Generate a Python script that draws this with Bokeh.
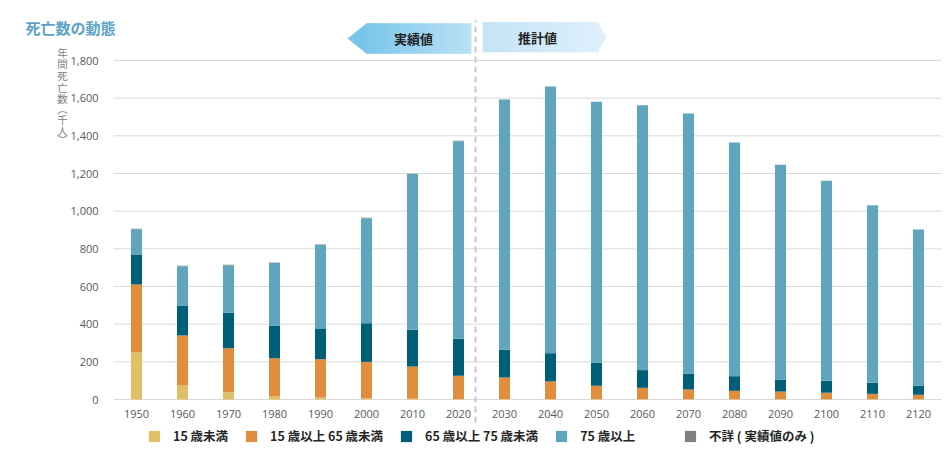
import numpy as np
from bokeh.plotting import figure
from bokeh.models import ColumnDataSource, Range1d, Legend, LegendItem, Label
from bokeh.core.properties import value
from bokeh.embed import file_html
from bokeh.resources import INLINE

# ---------------- data (thousand persons) ----------------
years = ["1950", "1960", "1970", "1980", "1990", "2000", "2010", "2020",
         "2030", "2040", "2050", "2060", "2070", "2080", "2090", "2100", "2110", "2120"]
under15 = [250, 74, 39, 18, 10, 5, 4, 2, 2, 2, 2, 1, 1, 1, 1, 1, 1, 1]
age15_64 = [360, 266, 233, 201, 204, 195, 171, 124, 115, 94, 71, 61, 52, 45, 41, 35, 29, 24]
age65_74 = [157, 159, 188, 174, 161, 205, 195, 196, 147, 150, 123, 94, 85, 78, 64, 63, 59, 49]
age75p = [136, 208, 252, 332, 446, 558, 827, 1049, 1329, 1416, 1385, 1407, 1380, 1240, 1141, 1063, 942, 829]
unknown = [3, 3, 3, 2, 2, 2, 2, 3, 0, 0, 0, 0, 0, 0, 0, 0, 0, 0]
series_names = ["15 歳未満", "15 歳以上 65 歳未満", "65 歳以上 75 歳未満", "75 歳以上", "不詳 ( 実績値のみ )"]
series_colors = ["#E0BF66", "#E08E3E", "#005F78", "#5EA5BD", "#808080"]
y_ticks = [0, 200, 400, 600, 800, 1000, 1200, 1400, 1600, 1800]
y_tick_labels = ["0", "200", "400", "600", "800", "1,000", "1,200", "1,400", "1,600", "1,800"]
last_actual = "2020"
title_text = "死亡数の動態"
y_label_chars = ["年", "間", "死", "亡", "数", "︵", "千", "人", "︶"]
banner_left_text = "実績値"
banner_right_text = "推計値"

# ---------------- layout constants (pixels) ----------------
W, H = 944, 448
PLOT_LEFT, PLOT_RIGHT = 113, 941
Y0_PX = 399
K = 339 / 1800.0  # px per unit
N = len(years)
UX = (PLOT_RIGHT - PLOT_LEFT) / N


def dx(px):
    return (px - PLOT_LEFT) / UX - 0.5


def dy(py):
    return (Y0_PX - py) / K


src = ColumnDataSource(dict(x=list(range(N)), a=under15, b=age15_64, c=age65_74,
                            d=age75p, e=unknown, year=years,
                            ylab=[dy(413)] * N))

p = figure(width=W, height=H, output_backend="svg", toolbar_location=None,
           x_range=Range1d(dx(0), dx(W)), y_range=Range1d(dy(H), dy(0)),
           min_border=0, min_border_left=0, min_border_right=0,
           min_border_top=0, min_border_bottom=0)
p.outline_line_color = None
p.background_fill_color = "white"
p.border_fill_color = "white"
p.axis.visible = False
p.grid.visible = False

# horizontal gridlines (value axis)
p.segment(x0=[-0.5] * len(y_ticks), x1=[N - 0.5] * len(y_ticks), y0=y_ticks, y1=y_ticks,
          line_color="#d9d9d9", line_width=1)
p.text(x=[dx(98)] * len(y_ticks), y=y_ticks, text=y_tick_labels, text_align="right",
       text_baseline="middle", text_font=value("Open Sans"), text_font_size="11px",
       text_color="#595959")

# stacked bars
rs = p.vbar_stack(["a", "b", "c", "d", "e"], x="x", width=0.24, source=src,
                  color=series_colors, line_color=None)

# year labels
p.text(x="x", y="ylab", text="year", source=src, text_align="center",
       text_baseline="middle", text_font=value("Open Sans"),
       text_font_size="11px", text_color="#595959")

# divider between actual and projected
split_x = years.index(last_actual) + 0.37
p.segment(x0=[split_x], x1=[split_x], y0=[dy(422)], y1=[dy(20)],
          line_color="#c8c8c8", line_width=2, line_dash="6 4")


def hexmix(c1, c2, t):
    a = np.array([int(c1[i:i + 2], 16) for i in (1, 3, 5)])
    b = np.array([int(c2[i:i + 2], 16) for i in (1, 3, 5)])
    c = np.round(a + (b - a) * t).astype(int)
    return "#%02x%02x%02x" % tuple(c)


def gradient_quads(px0, px1, top, bot, c1, c2, steps=40):
    edges = np.linspace(px0, px1, steps + 1)
    cols = [hexmix(c1, c2, (i + 0.5) / steps) for i in range(steps)]
    p.quad(left=[dx(e) for e in edges[:-1]], right=[dx(e) + 0.02 for e in edges[1:]],
           top=[dy(top)] * steps, bottom=[dy(bot)] * steps,
           fill_color=cols, line_color=None)


# left banner (pointing left)
lt, lb = 22.7, 53.3
p.patch([dx(347), dx(366), dx(366)], [dy((lt + lb) / 2), dy(lt), dy(lb)],
        fill_color="#79C5EA", line_color=None)
gradient_quads(365.5, 470, lt, lb, "#7CC7EB", "#B9E1F5")
# right banner (pointing right)
rt, rb = 21.5, 51.7
gradient_quads(482, 597.5, rt, rb, "#C4E4F7", "#DDEFFA")
p.patch([dx(597), dx(606), dx(597)], [dy(rt), dy((rt + rb) / 2), dy(rb)],
        fill_color="#DEF0FA", line_color=None)

p.add_layout(Label(x=dx(413), y=dy(38), text=banner_left_text, text_align="center",
                   text_baseline="middle", text_font="Noto Sans CJK JP",
                   text_font_style="bold", text_font_size="13px", text_color="#222222"))
p.add_layout(Label(x=dx(537), y=dy(37), text=banner_right_text, text_align="center",
                   text_baseline="middle", text_font="Noto Sans CJK JP",
                   text_font_style="bold", text_font_size="13px", text_color="#222222"))

# title
p.add_layout(Label(x=dx(25), y=dy(27), text=title_text, text_align="left",
                   text_baseline="middle", text_font="Noto Sans CJK JP",
                   text_font_style="bold", text_font_size="15px", text_color="#5BA3C5"))

# vertical y-axis label
ycent = [52, 63, 75, 87, 98, 108, 119, 130, 139]
for ch, yc in zip(y_label_chars, ycent):
    p.add_layout(Label(x=dx(62), y=dy(yc), text=ch, text_align="center",
                       text_baseline="middle", text_font="Noto Sans CJK JP",
                       text_font_size="10.5px", text_color="#7f7f7f"))

# legends
common = dict(orientation="horizontal", padding=0, margin=0, spacing=16,
              glyph_width=14, glyph_height=14, label_standoff=12, label_height=14,
              label_text_font="Noto Sans CJK JP", label_text_font_style="bold",
              label_text_font_size="12.5px", label_text_color="#262626",
              border_line_color=None, background_fill_alpha=0)
items = [LegendItem(label=n, renderers=[r]) for n, r in zip(series_names, rs)]
p.add_layout(Legend(items=items[:4], location=(147, H - 445), **common))
p.add_layout(Legend(items=items[4:], location=(683, H - 445), **common))

open("out.html", "w").write(file_html(p, INLINE))
